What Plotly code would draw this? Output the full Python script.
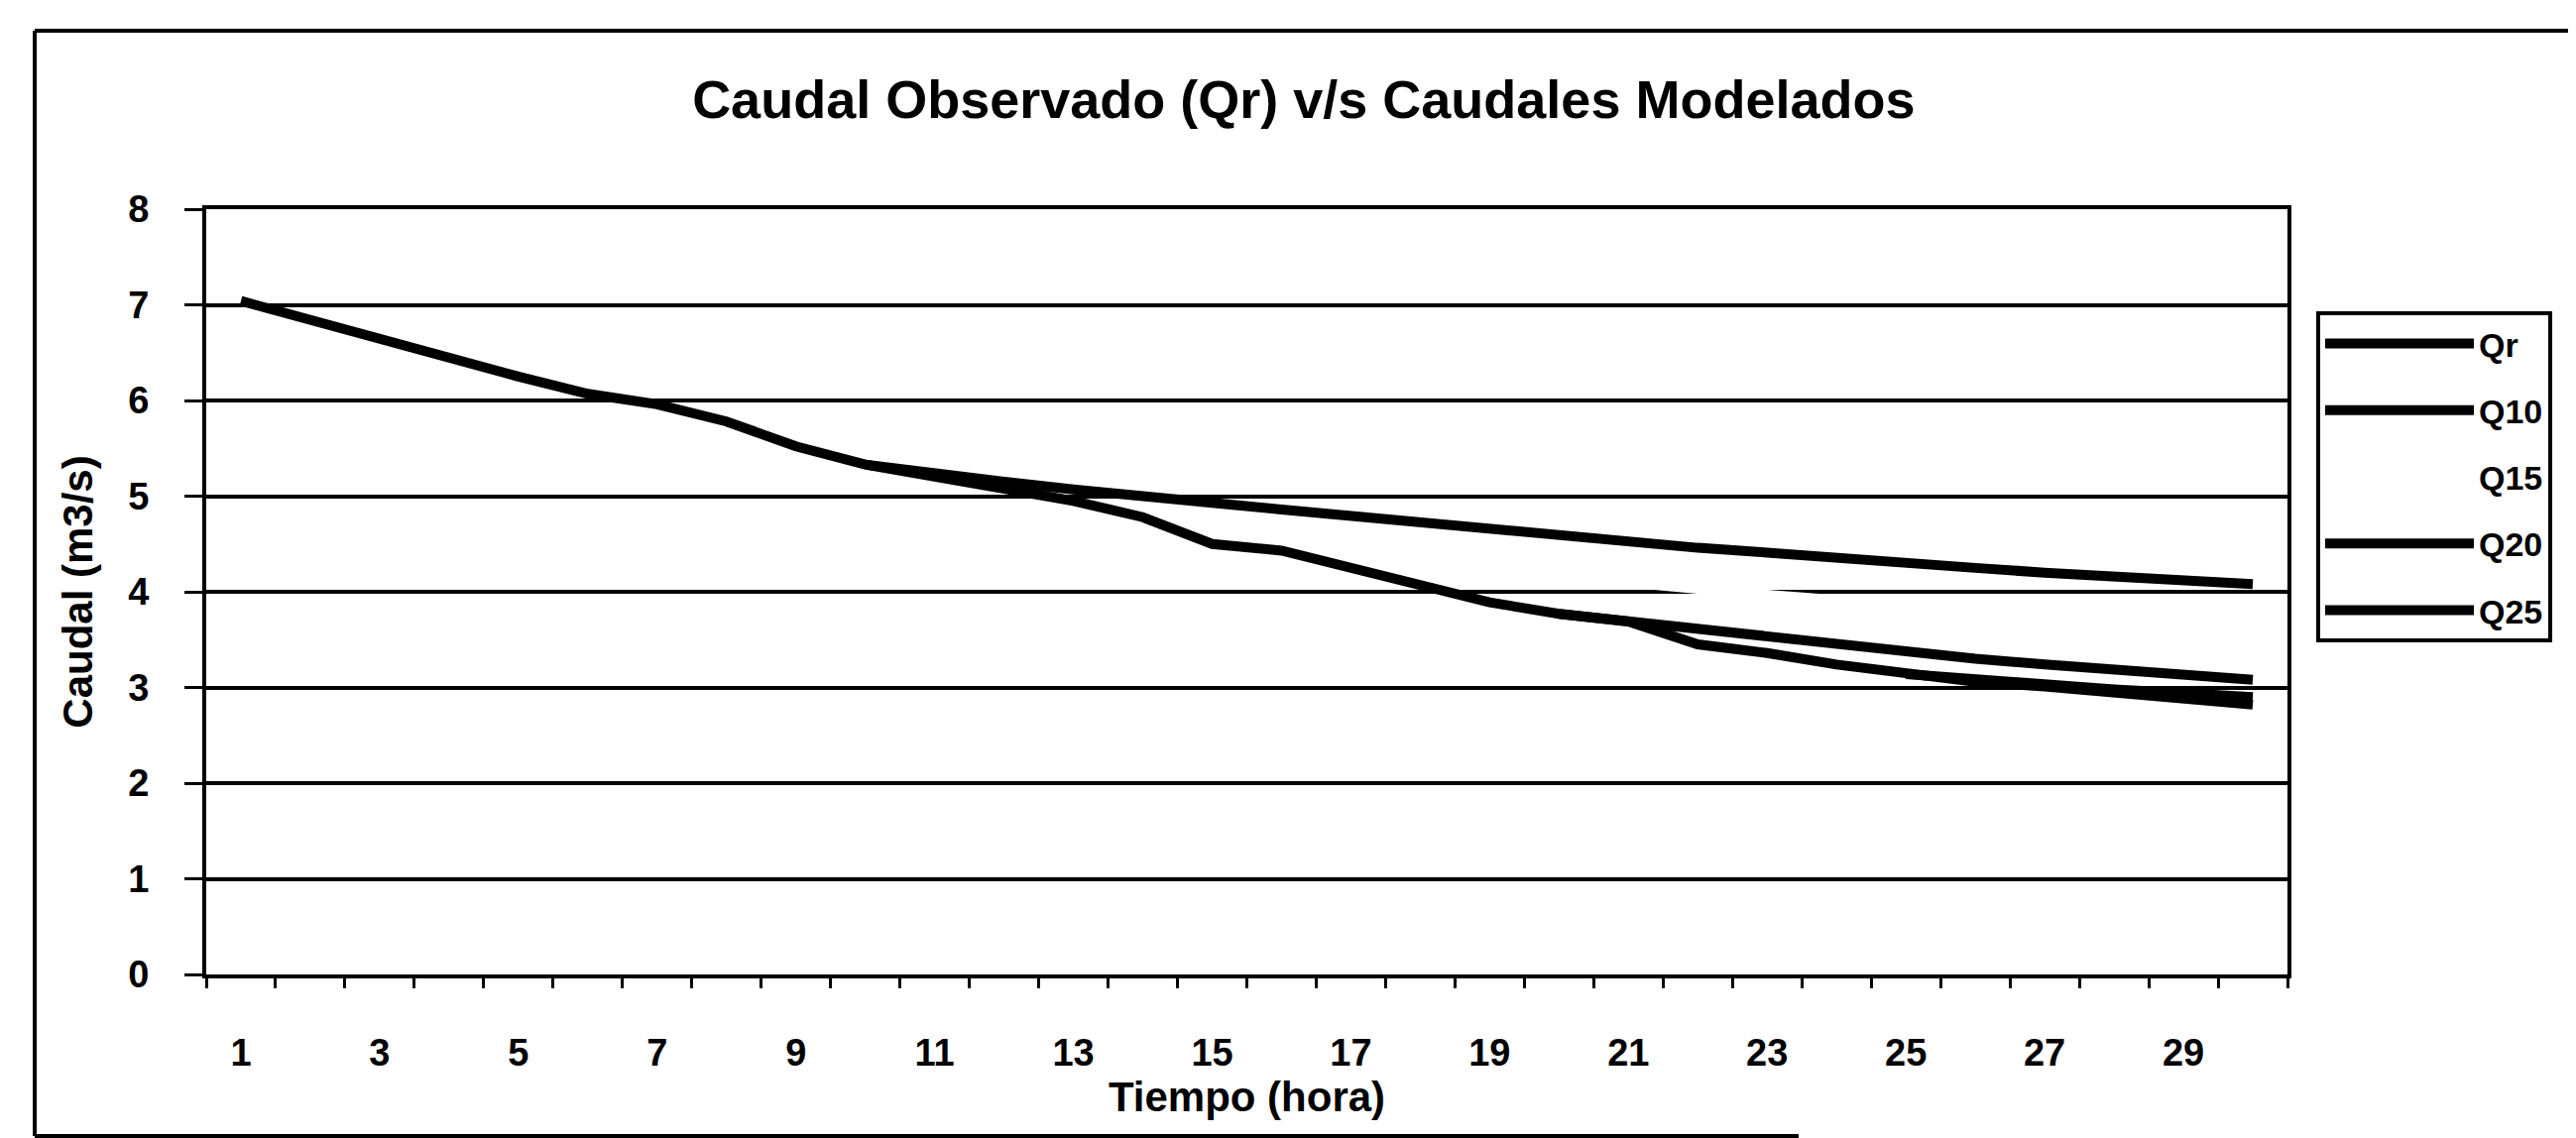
import plotly.graph_objects as go

# hora (eje x) y caudales
hours = list(range(1, 31))
qr = [7.04, 6.84, 6.64, 6.45, 6.25, 6.07, 5.96, 5.78, 5.52, 5.33,
      5.20, 5.06, 4.95, 4.78, 4.50, 4.43, 4.25, 4.06, 3.89, 3.77,
      3.69, 3.45, 3.36, 3.24, 3.14, 3.06, 3.01, 2.95, 2.88, 2.82]

q10_hours = list(range(10, 31))
q10 = [5.33, 5.23, 5.15, 5.07, 4.99, 4.93, 4.86, 4.79, 4.72, 4.65, 4.58,
       4.52, 4.46, 4.41, 4.35, 4.30, 4.25, 4.20, 4.16, 4.12, 4.08]

q15_hours = list(range(15, 31))
q15 = [4.50, 4.43, 4.36, 4.29, 4.22, 4.15, 4.09, 4.03,
       3.97, 3.91, 3.85, 3.80, 3.74, 3.69, 3.64, 3.59]

q20_hours = list(range(20, 31))
q20 = [3.77, 3.69, 3.60, 3.53, 3.45, 3.37, 3.30, 3.24, 3.18, 3.13, 3.08]

q25_hours = list(range(25, 31))
q25 = [3.14, 3.08, 3.03, 2.98, 2.94, 2.90]

x_ticks = list(range(1, 30, 2))

# plot area in pixels, used to place the frame around the chart
L, R, T, B = 200, 2299, 203, 975
FONT = "Liberation Sans"


def px(x):
    return (x - L) / (R - L)


def py(y):
    return (B - y) / (B - T)


fig = go.Figure()
# Q15 is drawn in white, under the other lines
fig.add_trace(go.Scatter(x=q15_hours, y=q15, mode="lines", name="Q15",
                         line=dict(color="white", width=10),
                         legendgroup="q15", legendrank=3))
fig.add_trace(go.Scatter(x=hours, y=qr, mode="lines", name="Qr",
                         line=dict(color="black", width=10),
                         legendgroup="qr", legendrank=1))
fig.add_trace(go.Scatter(x=q10_hours, y=q10, mode="lines", name="Q10",
                         line=dict(color="black", width=10),
                         legendgroup="q10", legendrank=2))
fig.add_trace(go.Scatter(x=q20_hours, y=q20, mode="lines", name="Q20",
                         line=dict(color="black", width=10),
                         legendgroup="q20", legendrank=4))
fig.add_trace(go.Scatter(x=q25_hours, y=q25, mode="lines", name="Q25",
                         line=dict(color="black", width=10),
                         legendgroup="q25", legendrank=5))

fig.update_layout(
    width=2598, height=1148,
    margin=dict(l=L, r=2598 - R, t=T, b=1148 - B),
    paper_bgcolor="white", plot_bgcolor="white",
    font=dict(family=FONT, color="black", size=34, weight="bold"),
    title=dict(text="Caudal Observado (Qr) v/s Caudales Modelados",
               xref="container", yref="container",
               x=0.503, y=1 - 92 / 1148, xanchor="center", yanchor="middle",
               font=dict(family=FONT, size=54, weight="bold")),
    legend=dict(x=px(2328), xanchor="left", y=py(306), yanchor="top",
                bordercolor="black", borderwidth=4, bgcolor="white",
                font=dict(family=FONT, size=34, weight="bold"),
                itemwidth=150, tracegroupgap=20,
                entrywidth=90, entrywidthmode="pixels"),
    showlegend=True,
)

fig.update_xaxes(
    range=[0.5, 30.5], tickmode="array", tickvals=x_ticks,
    ticks="", showgrid=False, zeroline=False,
    showline=True, linecolor="black", linewidth=4, mirror=True,
    tickfont=dict(family=FONT, size=38, weight="bold"), ticklabelstandoff=42,
    minor=dict(tickmode="linear", tick0=0.5, dtick=1, ticks="outside",
               ticklen=10, tickwidth=3, tickcolor="black", showgrid=False),
    title=dict(text="Tiempo (hora)", font=dict(family=FONT, size=42, weight="bold"),
               standoff=2),
)

fig.update_yaxes(
    range=[0, 8], tickmode="linear", tick0=0, dtick=1,
    showgrid=True, gridcolor="black", gridwidth=4, zeroline=False,
    ticks="outside", ticklen=18, tickwidth=3, tickcolor="black",
    showline=True, linecolor="black", linewidth=4, mirror=True,
    tickfont=dict(family=FONT, size=38, weight="bold"), ticklabelstandoff=28,
    title=dict(text="Caudal (m3/s)", font=dict(family=FONT, size=42, weight="bold"),
               standoff=24),
)

# outer frame of the chart (left, top and a partial bottom edge)
frame = dict(type="line", xref="paper", yref="paper", line=dict(color="black", width=4))
fig.add_shape(**frame, x0=px(27), y0=py(23), x1=px(27), y1=py(1138))
fig.add_shape(**frame, x0=px(27), y0=py(23), x1=px(2590), y1=py(23))
fig.add_shape(**frame, x0=px(27), y0=py(1138), x1=px(1806), y1=py(1138))

fig.write_html("out.html")
